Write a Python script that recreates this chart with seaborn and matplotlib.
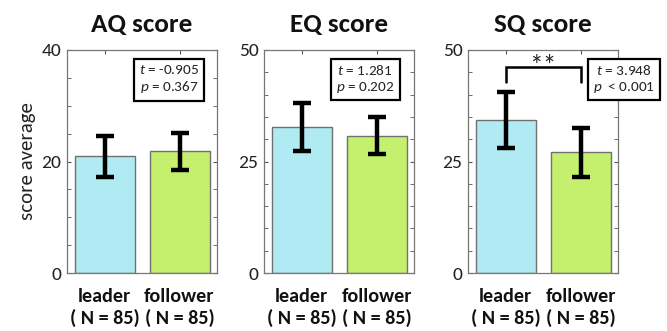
import matplotlib
matplotlib.use("Agg")
import matplotlib.pyplot as plt
from matplotlib.ticker import MultipleLocator
import seaborn as sns
import pandas as pd

groups = ["leader", "follower"]
tick_labels = ["leader\n( N = 85)", "follower\n( N = 85)"]
titles = ["AQ score", "EQ score", "SQ score"]
aq_mean = [20.9, 21.8]
aq_err = [3.75, 3.4]
eq_mean = [32.7, 30.8]
eq_err = [5.4, 4.2]
sq_mean = [34.3, 27.1]
sq_err = [6.2, 5.5]
ymax = [40, 50, 50]
ymajor = [20, 25, 25]
t_vals = ["-0.905", "1.281", "3.948"]
p_vals = ["= 0.367", "= 0.202", " < 0.001"]
colors = ["#B0EAF2", "#C5F06E"]

sns.set_style("ticks")
plt.rcParams['font.family'] = ['Carlito', 'DejaVu Sans']
plt.rcParams['mathtext.fontset'] = 'custom'
plt.rcParams['mathtext.it'] = 'Carlito:italic'
plt.rcParams['mathtext.rm'] = 'Carlito'

fig = plt.figure(figsize=(6.67, 3.31), dpi=100)
lefts = [67/667, 264/667, 468/667]
means = [aq_mean, eq_mean, sq_mean]
errs = [aq_err, eq_err, sq_err]
box_x = [0.68, 0.675, 1.04]

for i in range(3):
    ax = fig.add_axes([lefts[i], 58/331, 150/667, 223/331])
    df = pd.DataFrame({"group": groups, "score": means[i]})
    sns.barplot(data=df, x="group", y="score", hue="group", palette=colors,
                order=groups, hue_order=groups, width=0.8, edgecolor="#707070",
                linewidth=1, errorbar=None, legend=False, saturation=1, ax=ax)
    ax.errorbar(range(2), means[i], yerr=errs[i], fmt="none", ecolor="black",
                elinewidth=3.2, capsize=6.5, capthick=3.2, zorder=5)
    ax.set_xlim(-0.5, 1.5)
    ax.set_ylim(0, ymax[i])
    ax.yaxis.set_major_locator(MultipleLocator(ymajor[i]))
    ax.yaxis.set_minor_locator(MultipleLocator(5))
    ax.tick_params(axis="y", which="both", direction="in", left=True, right=True,
                   length=3, color="#555555", labelsize=14, labelcolor="#222222", pad=4)
    ax.tick_params(axis="x", direction="in", top=True, bottom=True, length=3,
                   color="#555555", pad=11)
    ax.set_xticks([0, 1])
    ax.set_xticklabels(tick_labels, fontsize=14.5, fontweight="bold", color="#111111",
                       linespacing=1.25)
    for s in ax.spines.values():
        s.set_visible(True)
        s.set_color("#777777")
        s.set_linewidth(0.9)
    ax.set_xlabel("")
    if i == 0:
        ax.set_ylabel("score average", fontsize=15, color="#222222", labelpad=4)
    else:
        ax.set_ylabel("")
    ax.set_title(titles[i], fontsize=19.5, fontweight="bold", pad=13, color="#111111")
    ax.text(box_x[i], 0.87, "$t$ = " + t_vals[i] + "\n$p$ " + p_vals[i],
            transform=ax.transAxes, ha="center", va="center", fontsize=11,
            linespacing=1.3, clip_on=False, zorder=10,
            bbox=dict(boxstyle="square,pad=0.35", facecolor="white",
                      edgecolor="black", linewidth=1.6))
    if i == 2:
        ax.plot([0, 0, 1, 1], [42.9, 46.3, 46.3, 42.9], color="black", lw=1.8,
                solid_joinstyle="miter")
        ax.text(0.5, 46.0, "**", ha="center", va="center", fontsize=20)

fig.savefig("out.png", dpi=100)
